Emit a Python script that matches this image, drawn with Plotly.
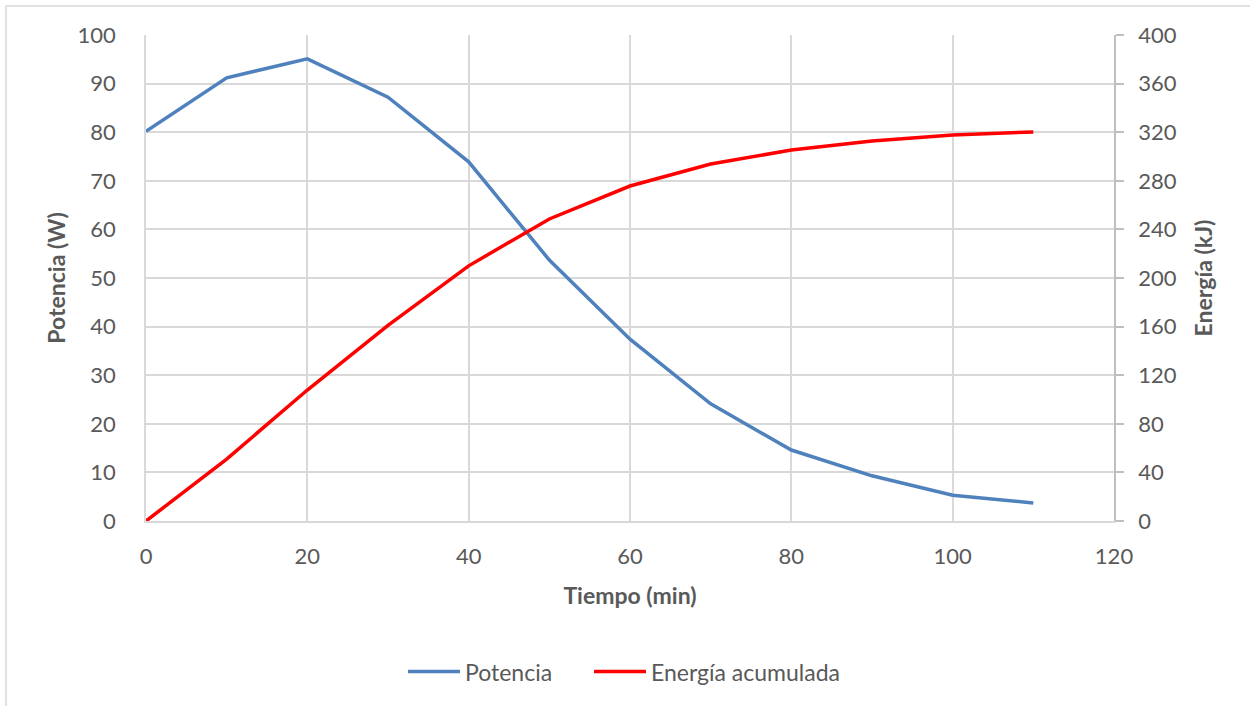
import plotly.graph_objects as go

tiempo = [0, 10, 20, 30, 40, 50, 60, 70, 80, 90, 100, 110]
potencia = [80.2, 91.2, 95.1, 87.2, 73.9, 53.7, 37.4, 24.1, 14.6, 9.3, 5.3, 3.7]
energia = [0, 51, 107.8, 161, 210, 248.6, 275.7, 293.8, 305.3, 312.8, 317.7, 320.2]

FONT = "Lato"
GRAY = "#595959"
GRID = "#d9d9d9"
FS = 22   # tick labels
FT = 23   # axis titles
FL = 23   # legend

fig = go.Figure()
fig.add_trace(go.Scatter(x=tiempo, y=potencia, mode="lines", name="Potencia",
                         line=dict(color="#4f81bd", width=3.5), legend="legend"))
fig.add_trace(go.Scatter(x=tiempo, y=energia, mode="lines", name="Energía acumulada",
                         line=dict(color="#ff0000", width=3.5), yaxis="y2", legend="legend2"))

PW, PH = 968, 486
leg_common = dict(orientation="h", xanchor="left", y=-0.31, yanchor="middle",
                  font=dict(size=FL, color=GRAY), itemwidth=52, bgcolor="rgba(0,0,0,0)")

fig.update_layout(
    width=1250, height=706,
    margin=dict(l=146, r=136, t=35, b=185),
    paper_bgcolor="white", plot_bgcolor="white",
    font=dict(family=FONT, color=GRAY, size=FS),
    xaxis=dict(range=[0, 120], tick0=0, dtick=20, showgrid=True, gridcolor=GRID, gridwidth=1.5,
               showline=True, linecolor=GRID, linewidth=1.5, zeroline=False,
               ticks="", tickfont=dict(size=FS, color=GRAY), ticklabelstandoff=15,
               title=dict(text="<b>Tiempo (min)</b>", font=dict(size=FT, color=GRAY), standoff=20)),
    yaxis=dict(range=[0, 100], dtick=10, showgrid=True, gridcolor=GRID, gridwidth=1.5,
               showline=True, linecolor=GRID, linewidth=1.5, zeroline=False, ticks="",
               tickfont=dict(size=FS, color=GRAY), ticklabelstandoff=24,
               title=dict(text="<b>Potencia (W)</b>", font=dict(size=FT, color=GRAY), standoff=6)),
    yaxis2=dict(range=[0, 400], dtick=40, overlaying="y", side="right", showgrid=False,
                showline=True, linecolor="#bfbfbf", linewidth=1.5, zeroline=False,
                ticks="outside", ticklen=8, tickcolor="#bfbfbf", tickwidth=1.5,
                tickfont=dict(size=FS, color=GRAY), ticklabelstandoff=10,
                title=dict(text="<b>Energía (kJ)</b>", font=dict(size=FT, color=GRAY), standoff=20)),
    legend=dict(x=(403 - 146) / PW, **leg_common),
    legend2=dict(x=(589 - 146) / PW, **leg_common),
    showlegend=True,
)

fig.add_shape(type="rect", xref="paper", yref="paper",
              x0=(6 - 146) / PW, x1=(1262 - 146) / PW,
              y0=-(720 - 521) / PH, y1=(521 - 6) / PH,
              line=dict(color=GRID, width=1.5), fillcolor="rgba(0,0,0,0)", layer="below")

fig.write_html("out.html")
